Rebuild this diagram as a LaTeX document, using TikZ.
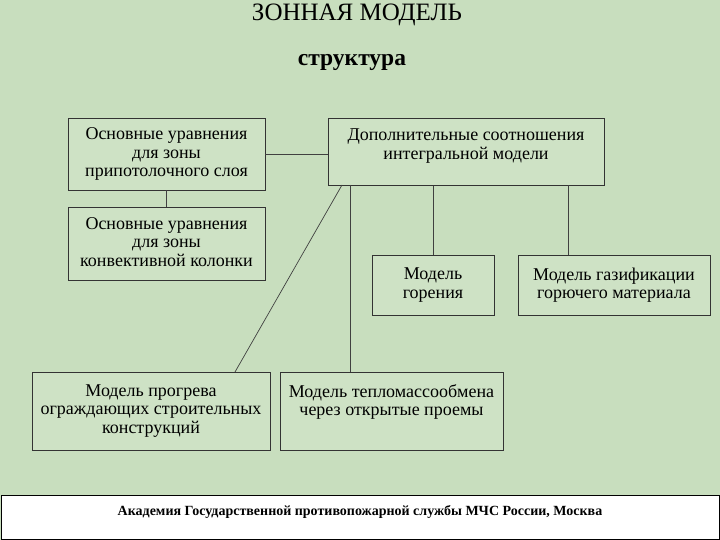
\documentclass[tikz,border=0pt]{standalone}
\usepackage{fontspec}
\setmainfont{Liberation Serif}
\begin{document}
\begin{tikzpicture}[x=1pt,y=-1pt,
  box/.style={draw=black!80,line width=0.8pt,fill=white,fill opacity=0.12,text opacity=1,align=center,font=\fontsize{18}{18.5}\selectfont,inner sep=0pt},
  lbl/.style={align=center,font=\fontsize{18}{18.5}\selectfont},
  conn/.style={draw=black!75,line width=0.7pt}]
\fill[color={rgb,255:red,200;green,222;blue,190}] (0,0) rectangle (720,540);
\useasboundingbox (0,0) rectangle (720,540);
\node[font=\fontsize{25}{26}\selectfont] (t) at (357,14.5) {ЗОННАЯ МОДЕЛЬ};
\node[font=\bfseries\fontsize{23.5}{25}\selectfont] (s) at (352,63) {структура};
\node[box,minimum width=197pt,minimum height=72pt] (A) at (166.5,154) {Основные уравнения\\для зоны\\припотолочного слоя};
\node[box,minimum width=276pt,minimum height=67pt,anchor=north] (B) at (466,118) {};
\node[lbl] (Bt) at (466,146) {Дополнительные соотношения\\интегральной модели};
\node[box,minimum width=197pt,minimum height=73pt,anchor=north] (C) at (166.5,207) {};
\node[lbl] (Ct) at (166.5,242) {Основные уравнения\\для зоны\\конвективной колонки};
\node[box,minimum width=122pt,minimum height=60pt] (D) at (433,285) {Модель\\горения};
\node[box,minimum width=192pt,minimum height=60pt] (E) at (614,285) {Модель газификации\\горючего материала};
\node[box,minimum width=238pt,minimum height=78pt] (F) at (151,411) {Модель прогрева\\ограждающих строительных\\конструкций};
\node[box,minimum width=223pt,minimum height=78pt,anchor=north] (G) at (391.5,372) {};
\node[lbl] (Gt) at (391.5,402) {Модель тепломассообмена\\через открытые проемы};
\draw[conn] (A.east) -- (B.west |- A.east);
\draw[conn] (A.south) -- (C.north);
\coordinate (b1) at (342,185);
\draw[conn] (b1) -- (235,372);
\draw[conn] (350,185) -- (350,372);
\draw[conn] (D.north) -- (D.north |- B.south);
\draw[conn] (568,255) -- (568,185);
\node[draw=black,line width=0.8pt,fill=white,minimum width=718pt,minimum height=44pt] (bar) at (360,517) {};
\node[font=\bfseries\fontsize{14}{16}\selectfont] (bt) at (360,512) {Академия Государственной противопожарной службы МЧС России, Москва};
\end{tikzpicture}
\end{document}
